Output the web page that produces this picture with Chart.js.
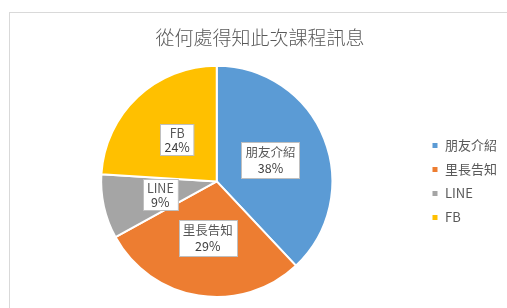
<!DOCTYPE html>
<html>
<head>
<meta charset="utf-8">
<script src="https://cdn.jsdelivr.net/npm/chart.js@4"></script>
<style>
    body { margin: 0; background: #fff; }
    #frame { position: absolute; left: 9px; top: 12px; width: 600px; height: 400px; border: 1px solid #d9d9d9; }
    #wrap { position: absolute; left: 0; top: 0; width: 507px; height: 308px; }
</style>
</head>
<body>
<div id="frame"></div>
<div id="wrap"><canvas id="pieChart" width="507" height="308"></canvas></div>
<script>
// Chart data
const chartTitle = '從何處得知此次課程訊息';
const sourceLabels = ['朋友介紹', '里長告知', 'LINE', 'FB'];
const sourceValues = [38, 29, 9, 24];
const sliceColors = ['#5B9BD5', '#ED7D31', '#A5A5A5', '#FFC000'];

const FONT = '"Noto Sans CJK TC", "Noto Sans", sans-serif';

// Draw Excel-like label boxes inside each slice
const sliceLabels = {
    id: 'sliceLabels',
    afterDatasetsDraw(chart) {
        const ctx = chart.ctx;
        const meta = chart.getDatasetMeta(0);
        const total = sourceValues.reduce((a, b) => a + b, 0);
        ctx.save();
        ctx.font = '12.5px ' + FONT;
        ctx.textAlign = 'center';
        ctx.textBaseline = 'middle';
        meta.data.forEach((arc, i) => {
            const pos = arc.tooltipPosition();
            const lines = [sourceLabels[i], Math.round(sourceValues[i] / total * 100) + '%'];
            const lh = /[^\x00-\x7f]/.test(sourceLabels[i]) ? 16 : 13.5;
            const w = Math.max(...lines.map(t => ctx.measureText(t).width)) + 8;
            const h = lines.length * lh + 4;
            const x = Math.round(pos.x - w / 2) + 0.5;
            const y = Math.round(pos.y - h / 2) + 0.5;
            ctx.fillStyle = '#ffffff';
            ctx.fillRect(x, y, w, h);
            ctx.strokeStyle = '#bfbfbf';
            ctx.lineWidth = 1;
            ctx.strokeRect(x, y, w, h);
            lines.forEach((t, j) => {
                ctx.fillStyle = j === 0 ? '#595959' : '#404040';
                ctx.fillText(t, pos.x, y + 2 + lh * (j + 0.5));
            });
        });
        ctx.restore();
    }
};

let pieChart;

function initializeChart() {
    const ctx = document.getElementById('pieChart').getContext('2d');
    pieChart = new Chart(ctx, {
        type: 'pie',
        data: {
            labels: sourceLabels,
            datasets: [{
                data: sourceValues,
                backgroundColor: sliceColors,
                borderColor: '#ffffff',
                borderWidth: 2
            }]
        },
        options: {
            responsive: false,
            animation: false,
            layout: {
                padding: { left: 13, right: 0, top: 0, bottom: 10 }
            },
            plugins: {
                title: {
                    display: true,
                    text: chartTitle,
                    color: '#595959',
                    font: { family: FONT, size: 19, weight: '300' },
                    padding: { top: 26, bottom: 16 }
                },
                legend: {
                    position: 'right',
                    fullSize: false,
                    labels: {
                        boxWidth: 7,
                        boxHeight: 7,
                        padding: 11,
                        color: '#595959',
                        font: { family: FONT, size: 13 }
                    }
                },
                tooltip: { enabled: false }
            }
        },
        plugins: [sliceLabels]
    });
}

document.addEventListener('DOMContentLoaded', initializeChart);
</script>
</body>
</html>
